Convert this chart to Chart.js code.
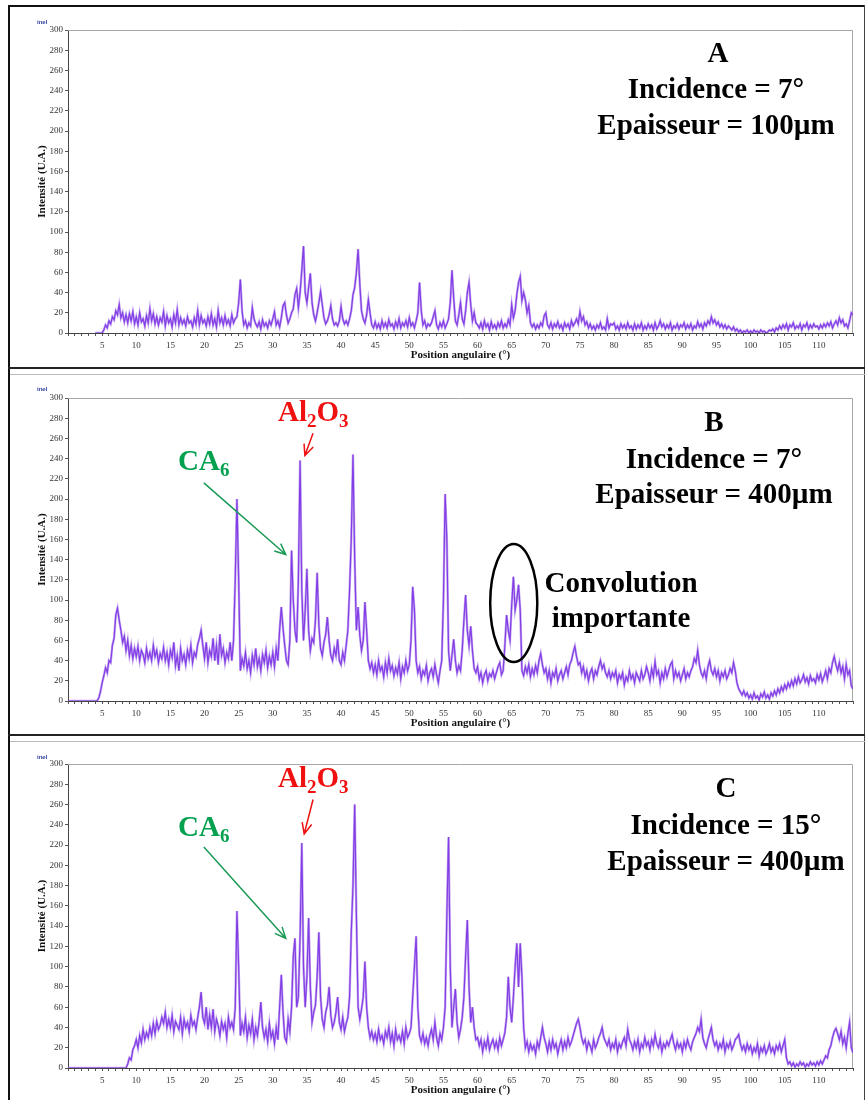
<!DOCTYPE html>
<html lang="fr">
<head>
<meta charset="UTF-8">
<title>Diffractogrammes A / B / C</title>
<script src="https://cdn.jsdelivr.net/npm/chart.js"></script>
<style>
    body { margin: 0; background: #fff; font-family: "Liberation Serif", "Times New Roman", serif; }
    #page { position: relative; width: 867px; height: 1100px; overflow: hidden; background: #fff; }
    .line { position: absolute; }
    canvas { position: absolute; left: 8px; }
    .lbl { position: absolute; font-weight: bold; font-size: 29px; line-height: 29px; white-space: nowrap; color: #000; }
    .ctr { width: 320px; text-align: center; }
    .sub { font-size: 19px; position: relative; top: 6px; }
    .inel { position: absolute; font: bold 6px Arial, sans-serif; color: #3040a0; }
</style>
</head>
<body>
<div id="page">
    <!-- frames -->
    <div class="line" style="left:8px;top:5px;width:2px;height:1095px;background:#111"></div>
    <div class="line" style="left:8px;top:5px;width:857px;height:2px;background:#111"></div>
    <div class="line" style="left:864px;top:5px;width:1px;height:1095px;background:#444"></div>
    <div class="line" style="left:8px;top:367px;width:857px;height:2px;background:#222"></div>
    <div class="line" style="left:10px;top:374px;width:855px;height:1px;background:#bbb"></div>
    <div class="line" style="left:8px;top:734px;width:857px;height:2px;background:#222"></div>
    <div class="line" style="left:10px;top:741px;width:855px;height:1px;background:#bbb"></div>

    <canvas id="chartA" width="852" height="362" style="top:6px"></canvas>
    <canvas id="chartB" width="852" height="361" style="top:374px"></canvas>
    <canvas id="chartC" width="852" height="359" style="top:741px"></canvas>

    <div class="inel" style="left:37px;top:19px">inel</div>
    <div class="inel" style="left:37px;top:386px">inel</div>
    <div class="inel" style="left:37px;top:754px">inel</div>

    <!-- panel A -->
    <div class="lbl ctr" style="left:558px;top:38px">A</div>
    <div class="lbl ctr" style="left:556px;top:74px">Incidence = 7°</div>
    <div class="lbl ctr" style="left:556px;top:110px">Epaisseur = 100µm</div>

    <!-- panel B -->
    <div class="lbl ctr" style="left:554px;top:407px">B</div>
    <div class="lbl ctr" style="left:554px;top:444px">Incidence = 7°</div>
    <div class="lbl ctr" style="left:554px;top:479px">Epaisseur = 400µm</div>
    <div class="lbl ctr" style="left:461px;top:568px">Convolution</div>
    <div class="lbl ctr" style="left:461px;top:603px">importante</div>
    <div class="lbl" style="left:178px;top:446px;color:#00a04e">CA<span class="sub">6</span></div>
    <div class="lbl" style="left:278px;top:397px;color:#f01010">Al<span class="sub">2</span>O<span class="sub">3</span></div>

    <!-- panel C -->
    <div class="lbl ctr" style="left:566px;top:773px">C</div>
    <div class="lbl ctr" style="left:566px;top:810px">Incidence = 15°</div>
    <div class="lbl ctr" style="left:566px;top:846px">Epaisseur = 400µm</div>
    <div class="lbl" style="left:178px;top:812px;color:#00a04e">CA<span class="sub">6</span></div>
    <div class="lbl" style="left:278px;top:763px;color:#f01010">Al<span class="sub">2</span>O<span class="sub">3</span></div>
</div>

<script>
    // angular grid: 0 .. 115 deg, one reading every 0.25 deg (rows of 5 deg)
    const ANGLE_STEP = 0.25;
    const X_MIN = 0, X_MAX = 115;
    const Y_MIN = 0, Y_MAX = 300, Y_STEP = 20;

    // A : incidence 7 deg, 100 µm
    const intensityA = [
        null,null,null,null,null,null,null,null,null,null,null,null,null,null,null,null,0,0,0,0,
        0,3,8,5,12,9,16,13,22,18,28,15,20,11,18,10,19,12,21,9,
        16,8,20,11,14,7,17,10,24,12,19,9,16,8,15,11,21,7,17,10,
        14,6,18,10,23,8,15,9,13,7,16,10,12,6,15,9,22,8,17,10,
        13,7,16,9,19,8,14,6,22,10,15,8,17,9,13,7,18,10,14,16,
        30,53,22,8,12,5,10,7,25,14,9,6,11,4,13,7,10,5,12,8,
        14,21,8,12,6,15,27,30,18,10,14,20,24,38,44,25,40,62,86,40,
        30,45,59,30,18,12,20,30,41,28,15,9,12,18,27,14,8,10,7,12,
        26,14,9,12,8,14,22,38,45,60,83,48,22,14,10,18,33,20,8,5,
        11,5,9,4,12,6,10,5,13,7,9,4,11,6,14,5,10,7,12,6,
        15,7,10,5,12,20,50,22,8,12,5,9,7,10,16,22,8,4,10,6,
        12,5,9,14,30,62,35,12,8,18,30,14,9,22,40,50,28,12,20,10,
        8,5,10,4,12,6,9,3,11,5,8,4,10,6,12,5,9,6,13,8,
        28,15,22,38,50,56,32,40,33,20,27,10,6,9,4,8,5,10,7,17,
        20,8,5,10,4,9,6,11,5,8,3,10,6,9,4,12,7,10,14,9,
        21,12,16,8,11,5,9,4,7,3,8,5,10,4,6,3,14,5,9,8,
        10,4,7,3,9,5,8,4,10,5,7,3,9,4,8,5,10,3,7,4,
        9,5,8,3,10,4,7,12,6,9,4,8,5,10,3,7,5,9,4,8,
        6,10,4,8,5,9,3,7,5,11,6,9,4,10,7,12,9,16,10,13,
        8,11,6,9,5,8,4,7,5,3,6,2,4,1,3,0,2,1,3,0,
        2,0,3,1,2,0,3,1,2,0,1,3,2,4,1,5,3,7,4,8,
        5,9,3,8,6,10,4,7,5,9,3,8,6,10,4,8,5,9,6,7,
        4,8,5,9,6,10,7,11,5,9,12,8,15,10,13,7,9,5,12,20,18
    ];

    // B : incidence 7 deg, 400 µm
    const intensityB = [
        0,0,0,0,0,0,0,0,0,0,0,0,0,0,0,0,0,0,3,9,
        18,25,33,28,40,38,55,62,85,92,80,70,58,64,50,60,45,55,42,52,
        44,54,40,50,46,38,52,42,48,40,55,44,50,38,47,42,53,40,48,36,
        50,43,58,35,45,30,52,40,46,36,50,42,55,38,48,44,56,62,70,55,
        42,58,38,50,44,62,40,55,36,66,45,52,38,48,42,58,40,60,120,200,
        120,30,42,35,48,32,40,28,45,36,52,34,42,30,46,38,50,33,44,36,
        48,34,52,40,70,93,72,55,40,36,60,149,100,70,58,120,238,110,60,90,
        131,70,50,62,58,80,127,75,52,45,58,66,83,60,45,40,52,45,61,40,
        36,48,40,55,70,110,161,244,140,70,93,65,50,60,98,70,40,32,38,28,
        36,26,40,30,34,24,38,28,42,30,35,25,33,27,38,22,34,28,40,30,
        36,60,113,90,40,28,34,22,30,26,35,20,28,32,24,36,26,18,30,40,
        100,205,160,50,30,45,61,40,28,35,30,50,80,105,70,55,74,50,32,28,
        34,22,28,18,26,30,20,27,24,30,22,28,34,38,26,30,55,85,70,60,
        95,123,90,100,115,90,30,25,34,28,36,24,32,26,35,28,40,47,36,28,
        32,22,30,18,28,24,32,20,26,30,22,28,34,26,36,40,48,54,44,36,
        38,28,34,24,30,20,28,32,22,30,26,34,40,32,36,28,24,30,22,28,
        24,30,18,26,22,28,16,24,20,30,22,26,18,28,24,20,30,22,26,34,
        28,20,32,24,39,26,30,18,28,22,32,24,30,36,39,22,30,24,28,20,
        26,32,22,28,24,30,34,42,38,50,36,28,24,30,22,34,40,30,26,32,
        24,30,20,28,24,30,22,26,32,28,38,30,18,12,9,6,10,5,8,3,
        6,2,8,3,5,1,7,4,9,3,6,2,8,5,10,6,12,8,14,10,
        16,12,18,14,20,15,22,17,24,18,21,26,19,23,17,25,20,22,18,26,
        21,27,19,24,30,22,32,28,38,44,36,30,38,28,34,22,36,26,30,15,12
    ];

    // C : incidence 15 deg, 400 µm
    const intensityC = [
        0,0,0,0,0,0,0,0,0,0,0,0,0,0,0,0,0,0,0,0,
        0,0,0,0,0,0,0,0,0,0,0,0,0,0,0,4,10,8,18,22,
        28,20,32,25,38,28,35,30,40,32,44,34,46,38,42,50,44,55,40,48,
        40,52,36,46,42,38,50,34,48,40,45,36,52,42,46,38,50,60,75,50,
        44,60,38,52,40,58,36,48,42,32,46,38,44,30,50,40,45,38,60,155,
        100,32,44,36,50,30,42,34,48,28,40,32,46,65,40,30,38,26,44,30,
        36,24,40,28,60,92,55,30,26,48,36,60,110,128,60,70,130,222,100,60,
        90,148,80,45,55,62,90,134,70,48,40,55,62,80,52,40,45,55,70,45,
        38,50,36,44,50,70,134,180,260,150,60,48,58,70,105,60,40,30,36,28,
        34,26,38,28,32,24,36,30,40,26,34,22,38,28,32,26,36,24,40,30,
        34,40,70,100,130,60,32,26,34,24,30,22,32,38,28,45,30,22,34,28,
        40,60,150,228,100,40,60,78,45,30,38,50,70,110,146,80,45,60,40,28,
        30,22,28,16,26,20,30,18,24,28,20,26,18,30,22,28,35,50,90,60,
        45,70,100,123,80,123,90,40,20,26,16,24,18,22,14,26,20,30,40,30,
        24,16,26,18,28,20,24,14,22,28,18,26,20,30,22,26,32,38,44,48,
        40,30,24,28,18,26,22,16,28,20,24,30,34,40,30,26,22,28,18,24,
        20,28,16,24,20,26,30,22,38,28,24,18,26,20,28,16,24,20,30,22,
        26,18,28,22,33,24,20,28,16,24,20,26,22,28,33,24,18,26,20,24,
        16,26,20,28,22,18,26,30,34,40,36,48,30,24,20,28,34,40,28,22,
        26,18,24,20,28,16,24,20,26,18,22,28,30,33,24,18,22,16,24,18,
        22,14,20,16,24,12,20,16,22,14,18,24,16,20,14,22,18,24,16,22,
        28,10,4,6,2,5,1,4,2,6,3,5,1,4,2,6,3,5,2,6,
        3,7,4,8,12,10,18,22,30,36,39,34,28,36,24,30,20,34,45,20,15
    ];

    const angles = intensityA.map((_, i) => X_MIN + i * ANGLE_STEP);

    // annotation anchors in data units (angle, intensity)
    const arrowsB = [
        { from: [19.9, 216], to: [31.9, 145], color: '#1a9a55' },
        { from: [35.9, 265], to: [34.7, 243], color: '#f01010' }
    ];
    const arrowsC = [
        { from: [19.9, 218], to: [31.9, 128], color: '#1a9a55' },
        { from: [35.9, 265], to: [34.6, 231], color: '#f01010' }
    ];
    const ellipseB = { cx: 65.3, cy: 97, rx: 3.45, ry: 58.5 };

    const annotPlugin = {
        id: 'annot',
        beforeDatasetsDraw(chart) {
            const { ctx, chartArea: a } = chart;
            ctx.save();
            ctx.strokeStyle = '#a8a8a8';
            ctx.lineWidth = 1;
            ctx.beginPath();
            ctx.moveTo(a.left, a.top + 0.5);
            ctx.lineTo(a.right - 0.5, a.top + 0.5);
            ctx.lineTo(a.right - 0.5, a.bottom);
            ctx.stroke();
            ctx.restore();
        },
        afterDatasetsDraw(chart, args, opts) {
            const { ctx, scales: { x, y } } = chart;
            (opts.arrows || []).forEach(ar => {
                const x1 = x.getPixelForValue(ar.from[0]), y1 = y.getPixelForValue(ar.from[1]);
                const x2 = x.getPixelForValue(ar.to[0]), y2 = y.getPixelForValue(ar.to[1]);
                const ang = Math.atan2(y2 - y1, x2 - x1);
                const L = 12, w = 0.42;
                ctx.save();
                ctx.strokeStyle = ar.color;
                ctx.lineWidth = 1.5;
                ctx.beginPath();
                ctx.moveTo(x1, y1);
                ctx.lineTo(x2, y2);
                ctx.moveTo(x2 - L * Math.cos(ang - w), y2 - L * Math.sin(ang - w));
                ctx.lineTo(x2, y2);
                ctx.lineTo(x2 - L * Math.cos(ang + w), y2 - L * Math.sin(ang + w));
                ctx.stroke();
                ctx.restore();
            });
            const e = opts.ellipse;
            if (e) {
                const cx = x.getPixelForValue(e.cx), cy = y.getPixelForValue(e.cy);
                const rx = Math.abs(x.getPixelForValue(e.cx + e.rx) - cx);
                const ry = Math.abs(y.getPixelForValue(e.cy + e.ry) - cy);
                ctx.save();
                ctx.strokeStyle = '#000';
                ctx.lineWidth = 2.5;
                ctx.beginPath();
                ctx.ellipse(cx, cy, rx, ry, 0, 0, Math.PI * 2);
                ctx.stroke();
                ctx.restore();
            }
        }
    };

    const tickFont = { family: 'Liberation Serif', size: 9 };
    const titleFont = { family: 'Liberation Serif', size: 11, weight: 'bold' };

    function makeChart(id, values, panel, annot) {
        const pts = values.map((v, i) => ({ x: angles[i], y: v }));
        return new Chart(document.getElementById(id), {
            type: 'line',
            data: {
                datasets: [
                    { data: pts, borderColor: 'rgba(150,100,228,0.55)', borderWidth: 2.4, pointRadius: 0, tension: 0, spanGaps: false },
                    { data: pts, borderColor: 'rgb(110,14,232)', borderWidth: 1.2, pointRadius: 0, tension: 0, spanGaps: false }
                ]
            },
            plugins: [annotPlugin],
            options: {
                responsive: false,
                animation: false,
                events: [],
                layout: { padding: { top: panel.plotTop - panel.top, right: 7, bottom: 0, left: 0 } },
                plugins: {
                    legend: { display: false },
                    tooltip: { enabled: false },
                    annot: annot
                },
                scales: {
                    x: {
                        type: 'linear',
                        min: X_MIN,
                        max: X_MAX,
                        afterFit: s => { s.height = panel.top + panel.height - panel.plotBottom; },
                        ticks: {
                            stepSize: 1,
                            autoSkip: false,
                            maxRotation: 0,
                            padding: 4,
                            color: '#333',
                            font: tickFont,
                            callback: v => (v % 5 === 0 && v > X_MIN && v < X_MAX) ? String(v) : ''
                        },
                        grid: { drawOnChartArea: false, drawTicks: true, tickLength: 3, color: '#555' },
                        border: { color: '#444', width: 1 },
                        title: {
                            display: true,
                            text: 'Position angulaire (°)',
                            font: titleFont,
                            color: '#111',
                            padding: { top: 0, bottom: panel.top + panel.height - panel.plotBottom - 22 - 6.6 }
                        }
                    },
                    y: {
                        min: Y_MIN,
                        max: Y_MAX,
                        afterFit: s => { s.width = 60; },
                        ticks: { stepSize: Y_STEP, padding: 2, color: '#333', font: tickFont },
                        grid: { drawOnChartArea: false, drawTicks: true, tickLength: 3, color: '#555' },
                        border: { color: '#444', width: 1 },
                        title: {
                            display: true,
                            text: 'Intensité (U.A.)',
                            font: titleFont,
                            color: '#111',
                            padding: { top: 27.4, bottom: 0 }
                        }
                    }
                }
            }
        });
    }

    makeChart('chartA', intensityA, { top: 6, height: 362, plotTop: 30, plotBottom: 333 }, {});
    makeChart('chartB', intensityB, { top: 374, height: 361, plotTop: 398, plotBottom: 701 }, { arrows: arrowsB, ellipse: ellipseB });
    makeChart('chartC', intensityC, { top: 741, height: 359, plotTop: 764, plotBottom: 1068 }, { arrows: arrowsC });
</script>
</body>
</html>
